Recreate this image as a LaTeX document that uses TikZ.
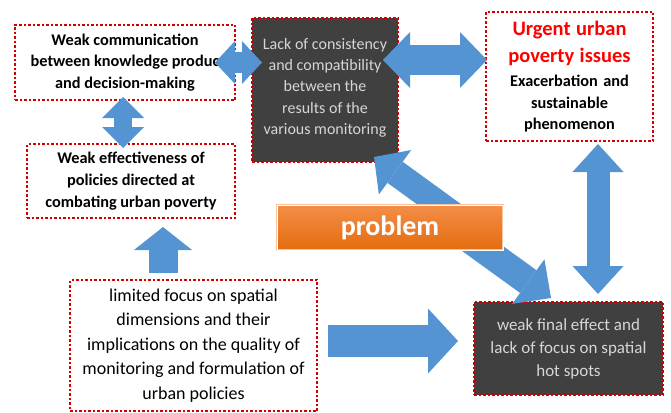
\documentclass[tikz,border=0pt]{standalone}
\usepackage{fontspec}
\setmainfont{Carlito}
\usetikzlibrary{arrows.meta}

\definecolor{dotred}{RGB}{210,0,0}
\definecolor{boxgrey}{RGB}{64,64,64}
\definecolor{greytext}{RGB}{214,214,214}
\definecolor{urgred}{RGB}{255,0,0}
\definecolor{arrowblue}{RGB}{84,148,210}
\definecolor{probtop}{RGB}{243,142,72}
\definecolor{probbot}{RGB}{228,108,14}
\definecolor{probedge}{RGB}{250,195,160}

\begin{document}
\begin{tikzpicture}[x=1pt, y=-1pt, every node/.style={inner sep=0pt, outer sep=0pt, align=center}]

\tikzset{
    whitebox/.style={draw=dotred, line width=2.7pt, dash pattern=on 2.5pt off 2pt, fill=white},
    greybox/.style={draw=dotred, line width=2.7pt, dash pattern=on 2.5pt off 2pt, fill=boxgrey, text=greytext},
    boldtext/.style={font=\bfseries\fontsize{16.3}{21.7}\selectfont},
    probbox/.style={top color=probtop, bottom color=probbot, draw=probedge, double=white, double distance=0.8pt, line width=0.8pt, text=white, font=\bfseries\fontsize{28}{30}\selectfont},
    arrowone/.style n args={3}{draw=arrowblue, line width=#1, -{Triangle[width=#2, length=#3, line width=0pt]}},
    arrowtwo/.style n args={3}{draw=arrowblue, line width=#1, {Triangle[width=#2, length=#3, line width=0pt]}-{Triangle[width=#2, length=#3, line width=0pt]}}
}

\useasboundingbox (0,0) rectangle (671,412);

\node[whitebox, boldtext, minimum width=220pt, minimum height=75pt] (comm) at (125,62.5)
    {Weak communication\\between knowledge produc\\and decision-making};
\node[greybox, font=\fontsize{16}{21.3}\selectfont, minimum width=146pt, minimum height=144pt] (lack) at (325,90)
    {Lack of consistency\\and compatibility\\between the\\results of the\\various monitoring\\[-14pt]};
\node[whitebox, boldtext, text width=160pt, minimum width=167pt, minimum height=129pt] (urgent) at (569.5,76.5)
    {{\color{urgred}\fontsize{20.5}{27.5}\selectfont Urgent urban\\poverty issues\par}\vspace{2pt}Exacerbation and\\sustainable\\phenomenon};
\node[whitebox, boldtext, minimum width=208pt, minimum height=74pt] (effect) at (131,181)
    {Weak effectiveness of\\policies directed at\\combating urban poverty};
\node[whitebox, font=\fontsize{18}{24.5}\selectfont, minimum width=247pt, minimum height=131pt] (limited) at (193.5,345.5)
    {limited focus on spatial\\dimensions and their\\implications on the quality of\\monitoring and formulation of\\urban policies};
\node[greybox, font=\fontsize{17}{23}\selectfont, minimum width=189pt, minimum height=93pt] (final) at (568.5,348.5)
    {weak final effect and\\lack of focus on spatial\\hot spots};
\coordinate (prob) at (390,227.5);

\draw[arrowtwo={21pt}{43pt}{20pt}] ([xshift=-20pt]comm.east) -- ([xshift=27pt]comm.east);
\draw[arrowtwo={18pt}{42pt}{21pt}] ([xshift=-2pt,yshift=3pt]comm.south) -- ([xshift=-2pt,yshift=-48pt]comm.south);
\draw[arrowtwo={30pt}{56pt}{27pt}] ([xshift=-15pt,yshift=30pt]lack.east) -- ([xshift=1pt,yshift=16.5pt]urgent.west);
\draw[arrowtwo={23pt}{51pt}{28pt}] ([xshift=28.5pt,yshift=-3pt]urgent.south) -- ([xshift=29.5pt,yshift=8pt]final.north);
\draw[arrowone={26pt}{55pt}{26pt}] ([xshift=68pt,yshift=9.5pt]prob) -- ([xshift=-24pt,yshift=5pt]lack.south east);
\draw[arrowone={28pt}{55pt}{28pt}] ([xshift=78pt,yshift=-10.5pt]prob) -- ([xshift=77pt,yshift=4pt]final.north west);
\draw[arrowone={29pt}{58pt}{23pt}] ([xshift=-30.5pt,yshift=7pt]limited.north) -- ([xshift=32pt,yshift=-9pt]effect.south);
\draw[arrowone={32pt}{65pt}{30pt}] ([xshift=11pt,yshift=4.5pt]limited.east) -- ([xshift=-16pt,yshift=7.5pt]final.west);

\node[probbox, minimum width=226pt, minimum height=45pt] (problem) at (prob) {problem};

\end{tikzpicture}
\end{document}
